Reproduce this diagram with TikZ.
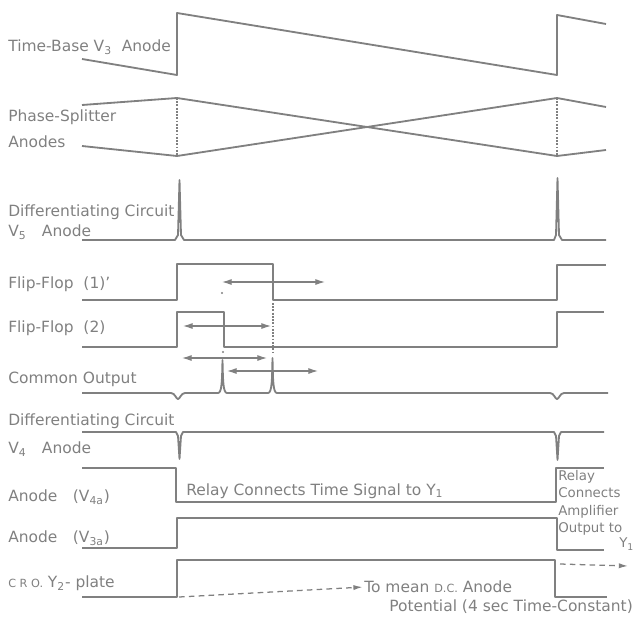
\documentclass[tikz,border=0pt]{standalone}
\usepackage{fontspec}
\setmainfont{DejaVu Sans}
\usepackage{tikz}
\usetikzlibrary{arrows.meta}
\definecolor{ink}{gray}{0.5}
\tikzset{
  sig/.style={draw=ink,line width=1.3pt,line join=round},
  % the phase-splitter and flip-flop edges that only mark an instant are dotted
  dotv/.style={draw=ink,line width=1.3pt,densely dotted},
  arr/.style={{Latex[length=2.4mm,width=1.5mm]}-{Latex[length=2.4mm,width=1.5mm]},draw=ink,line width=.8pt},
  dsh/.style={-{Latex[length=2.3mm,width=1.3mm]},draw=ink,line width=.9pt,dash pattern=on 4pt off 3pt},
  lb/.style={font=\fontsize{11}{12.4}\selectfont,text=ink,inner sep=0pt,anchor=west,align=left},
  lbs/.style={lb,font=\fontsize{9.5}{12.4}\selectfont},
}

\begin{document}
\begin{tikzpicture}[x=0.025cm,y=-0.025cm]
\useasboundingbox (0,0) rectangle (635,617);
\node[lb] (tb) at (8,47) {Time-Base V\textsubscript{3}\ \ Anode};
\node[lb] (ps) at (8,129) {Phase-Splitter\\[6pt] Anodes};
\node[lb] (dc5) at (8,222) {Differentiating Circuit\\[2pt] V\textsubscript{5}\quad Anode};
\node[lb] (ff1) at (8,284) {Flip-Flop\ \ (1)\textquoteright};
\node[lb] (ff2) at (8,328) {Flip-Flop\ \ (2)};
\node[lb] (co) at (8,379) {Common Output};
\node[lb] (dc4) at (8,435) {Differentiating Circuit\\[8pt] V\textsubscript{4}\quad Anode};
\node[lb] (a4) at (8,497) {Anode\quad (V\textsubscript{4a})};
\node[lb] (a3) at (8,538) {Anode\quad (V\textsubscript{3a})};
\node[lb] (cro) at (8,583) {{\footnotesize C R O.} Y\textsubscript{2}- plate};
\node[lb] (rl1) at (186,491) {Relay Connects Time Signal to Y\textsubscript{1}};
\node[lbs,anchor=north west] (rl2) at (558,470) {Relay\\ Connects\\ Amplifier\\ Output to};
\node[lbs] (y1) at (619,544) {Y\textsubscript{1}};
\node[lb] (mn) at (364,587) {To mean {\footnotesize D.C.} Anode};
\node[lb] (pt) at (389,607) {Potential (4 sec Time-Constant)};

\draw[sig] (82,59) -- (177,75) -- (177,13) -- (557,75) -- (557,15) -- (606,24);
\draw[sig] (82,105) -- (177,98) -- (557,156) -- (606,150);
\draw[sig] (82,146) -- (177,156) -- (557,98) -- (606,107);
\draw[dotv] (177,98) -- (177,156) (557,98) -- (557,156);
\draw[sig] (82,240) -- (175,240) -- (178,235) -- (179.5,180) -- (181,235) -- (184,240)
  -- (554,240) -- (556,235) -- (557.5,178) -- (559,235) -- (562,240) -- (606,240);
\draw[sig] (82,300) -- (177,300) -- (177,264) -- (273,264) -- (273,300) -- (557,300)
  -- (557,265) -- (606,265);
\draw[sig] (82,347) -- (177,347) -- (177,312) -- (224,312) -- (224,347) -- (557,347)
  -- (557,312) -- (604,312);
\draw[sig] (82,393) -- (171,393) .. controls (175,393) and (176,399) .. (178,399)
  .. controls (180,399) and (181,393) .. (185,393) -- (218,393)
  .. controls (222,393) and (222,380) .. (222.5,360) .. controls (223,380) and (223,393) .. (227,393)
  -- (268,393) .. controls (272,393) and (272,380) .. (272.5,358)
  .. controls (273,380) and (273,393) .. (277,393) -- (550,393)
  .. controls (554,393) and (555,399) .. (557,399) .. controls (559,399) and (560,393) .. (564,393)
  -- (608,393);
\draw[dotv] (273,303) -- (273,354);
\fill[ink] (222,293) circle (1.2) (223,352) circle (1.2);
\draw[sig] (82,432) -- (176,432) -- (178,436) -- (179.5,459) -- (181,436) -- (183,432)
  -- (554,432) -- (556,436) -- (557.5,460) -- (559,436) -- (561,432) -- (604,432);
\draw[sig] (82,468) -- (176,468) -- (176,502) -- (556,502) -- (556,468) -- (604,468);
\draw[sig] (82,548) -- (177,548) -- (177,518) -- (557,518) -- (557,550) -- (604,550);
\draw[sig] (82,597) -- (177,597) -- (177,560) -- (555,560) -- (555,597) -- (607,597);

\coordinate (a1l) at (222,282); \coordinate (a1r) at (325,282);
\coordinate (a2l) at (183,326); \coordinate (a2r) at (271,326);
\coordinate (a3l) at (182,358); \coordinate (a3r) at (267,358);
\coordinate (a4l) at (227,371); \coordinate (a4r) at (318,371);
\draw[arr] (a1l) -- (a1r);
\draw[arr] (a2l) -- (a2r);
\draw[arr] (a3l) -- (a3r);
\draw[arr] (a4l) -- (a4r);
\coordinate (d1s) at (179,597); \coordinate (d2s) at (560,564);
\draw[dsh,shorten >=1pt] (d1s) -- (mn.west);
\draw[dsh] (d2s) -- (628,566);
\end{tikzpicture}
\end{document}
